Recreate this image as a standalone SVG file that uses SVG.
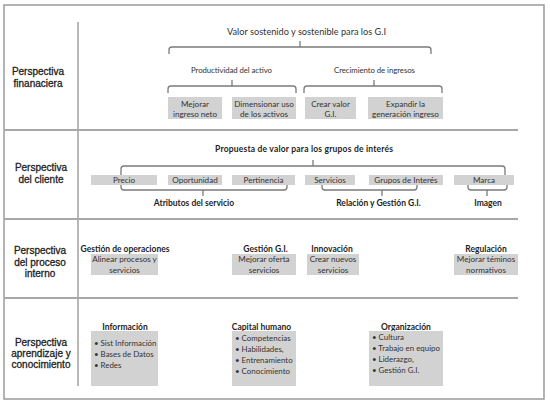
<svg xmlns="http://www.w3.org/2000/svg" width="550" height="407" viewBox="0 0 550 407">
<style>
.frame{fill:#fff;stroke:#9a9a9a;stroke-width:1.5}
.div{stroke:#a8a8a8;stroke-width:1.8;fill:none}
.vdiv{stroke:#9a9a9a;stroke-width:1.4;fill:none}
.lbl{font-family:'Liberation Sans',Arial,sans-serif;font-size:10px;fill:#222;stroke:#222;stroke-width:0.3;text-anchor:middle}
.t{font-family:Lato,'Noto Sans',sans-serif;fill:#333;text-anchor:middle}
.title{font-size:9.2px}
.sub{font-size:7.8px}
.bx{font-size:8.1px}
.bh{font-size:8.5px;font-weight:bold;fill:#1e1e1e}
.bl{font-size:7.9px;text-anchor:start}
.box{fill:#d2d2d2}
.brace{fill:none;stroke:#7b7b7b;stroke-width:1.3}
</style>
<rect class="frame" x="4" y="5" width="540" height="394"/>
<g id="grid">
<line class="vdiv" x1="78" y1="22" x2="78" y2="386"/>
<line class="div" x1="4" y1="130" x2="518" y2="130"/>
<line class="div" x1="4" y1="219" x2="518" y2="219"/>
<line class="div" x1="4" y1="298" x2="518" y2="298"/>
</g>
<g id="row-labels">
<text class="lbl" x="38" y="75">Perspectiva</text>
<text class="lbl" x="38" y="86.5">finanaciera</text>
<text class="lbl" x="41" y="171">Perspectiva</text>
<text class="lbl" x="41" y="183">del cliente</text>
<text class="lbl" x="40" y="254">Perspectiva</text>
<text class="lbl" x="40" y="265.5">del proceso</text>
<text class="lbl" x="40" y="277">interno</text>
<text class="lbl" x="41" y="345.5">Perspectiva</text>
<text class="lbl" x="41" y="356.5">aprendizaje y</text>
<text class="lbl" x="41" y="367.5">conocimiento</text>
</g>
<g id="connectors">
<path class="brace" d="M169,54 V50 Q169,47 172,47 H428 Q431,47 431,50 V54 M300,47 V41"/>
<path class="brace" d="M168,93 V89 Q168,86 171,86 H293 Q296,86 296,89 V93 M232,86 V80"/>
<path class="brace" d="M304,93 V89 Q304,86 307,86 H439 Q442,86 442,89 V93 M374,86 V80"/>
<path class="brace" d="M121,175 V169 Q121,166 124,166 H502 Q505,166 505,169 V175 M313,166 V160"/>
<path class="brace" d="M121,185 V187 Q121,190 124,190 H284 Q287,190 287,187 V185 M203,190 V196"/>
<path class="brace" d="M322,185 V187 Q322,190 325,190 H414 Q417,190 417,187 V185 M382,190 V196"/>
<path class="brace" d="M468,185 V187 Q468,190 471,190 H504 Q507,190 507,187 V185 M487,190 V196"/>
</g>
<g id="valor-sostenido"><text class="t title" x="306.5" y="35" textLength="159">Valor sostenido y sostenible para los G.I</text></g>
<g id="productividad"><text class="t sub" x="231.5" y="73" textLength="81">Productividad del activo</text></g>
<g id="crecimiento"><text class="t sub" x="374.5" y="73" textLength="81">Crecimiento de ingresos</text></g>
<g id="mejorar-ingreso"><rect class="box" x="168" y="97" width="54" height="22"/><text class="t bx" x="195" y="106.5">Mejorar</text><text class="t bx" x="195" y="117">ingreso neto</text></g>
<g id="dimensionar"><rect class="box" x="232" y="97" width="64" height="22"/><text class="t bx" x="264" y="106.5">Dimensionar uso</text><text class="t bx" x="264" y="117">de los activos</text></g>
<g id="crear-valor"><rect class="box" x="305" y="97" width="51" height="22"/><text class="t bx" x="330.5" y="106.5">Crear valor</text><text class="t bx" x="330.5" y="117">G.I.</text></g>
<g id="expandir"><rect class="box" x="368" y="97" width="75" height="22"/><text class="t bx" x="405.5" y="106.5">Expandir la</text><text class="t bx" x="405.5" y="117">generación ingreso</text></g>
<g id="propuesta"><text class="t bh" x="304" y="152" textLength="178">Propuesta de valor para los grupos de interés</text></g>
<g id="precio"><rect class="box" x="91" y="175" width="66" height="10"/><text class="t bx" x="124" y="183">Precio</text></g>
<g id="oportunidad"><rect class="box" x="168" y="175" width="54" height="10"/><text class="t bx" x="195" y="183">Oportunidad</text></g>
<g id="pertinencia"><rect class="box" x="232" y="175" width="63" height="10"/><text class="t bx" x="263.5" y="183">Pertinencia</text></g>
<g id="servicios"><rect class="box" x="305" y="175" width="50" height="10"/><text class="t bx" x="330" y="183">Servicios</text></g>
<g id="grupos"><rect class="box" x="369" y="175" width="74" height="10"/><text class="t bx" x="406" y="183">Grupos de Interés</text></g>
<g id="marca"><rect class="box" x="454" y="175" width="60" height="10"/><text class="t bx" x="484" y="183">Marca</text></g>
<g id="atributos"><text class="t bh" x="194" y="206">Atributos del servicio</text></g>
<g id="relacion"><text class="t bh" x="378.5" y="206">Relación y Gestión G.I.</text></g>
<g id="imagen"><text class="t bh" x="488" y="206">Imagen</text></g>
<g id="gestion-operaciones"><text class="t bh" x="125" y="252">Gestión de operaciones</text><rect class="box" x="91" y="254" width="67" height="21"/><text class="t bx" x="124.5" y="262">Alinear procesos y</text><text class="t bx" x="124.5" y="272.5">servicios</text></g>
<g id="gestion-gi"><text class="t bh" x="265.5" y="252">Gestión G.I.</text><rect class="box" x="232" y="254" width="64" height="21"/><text class="t bx" x="264" y="262">Mejorar oferta</text><text class="t bx" x="264" y="272.5">servicios</text></g>
<g id="innovacion"><text class="t bh" x="332" y="252">Innovación</text><rect class="box" x="307" y="254" width="52" height="21"/><text class="t bx" x="333" y="262">Crear nuevos</text><text class="t bx" x="333" y="272.5">servicios</text></g>
<g id="regulacion"><text class="t bh" x="486" y="252">Regulación</text><rect class="box" x="454" y="254" width="64" height="21"/><text class="t bx" x="486" y="262">Mejorar téminos</text><text class="t bx" x="486" y="272.5">normativos</text></g>
<g id="informacion"><text class="t bh" x="125" y="329.5">Información</text><rect class="box" x="91" y="331" width="67" height="55"/><text class="t bl" x="94" y="346">• Sist Información</text><text class="t bl" x="94" y="357">• Bases de Datos</text><text class="t bl" x="94" y="368">• Redes</text></g>
<g id="capital-humano"><text class="t bh" x="261.5" y="329.5">Capital humano</text><rect class="box" x="232" y="331" width="64" height="55"/><text class="t bl" x="235" y="341">• Competencias</text><text class="t bl" x="235" y="352">• Habilidades,</text><text class="t bl" x="235" y="363">• Entrenamiento</text><text class="t bl" x="235" y="374">• Conocimiento</text></g>
<g id="organizacion"><text class="t bh" x="406" y="329.5">Organización</text><rect class="box" x="369" y="331" width="74" height="55"/><text class="t bl" x="372" y="340">• Cultura</text><text class="t bl" x="372" y="351">• Trabajo en equipo</text><text class="t bl" x="372" y="362">• Liderazgo,</text><text class="t bl" x="372" y="373">• Gestión G.I.</text></g>
</svg>
